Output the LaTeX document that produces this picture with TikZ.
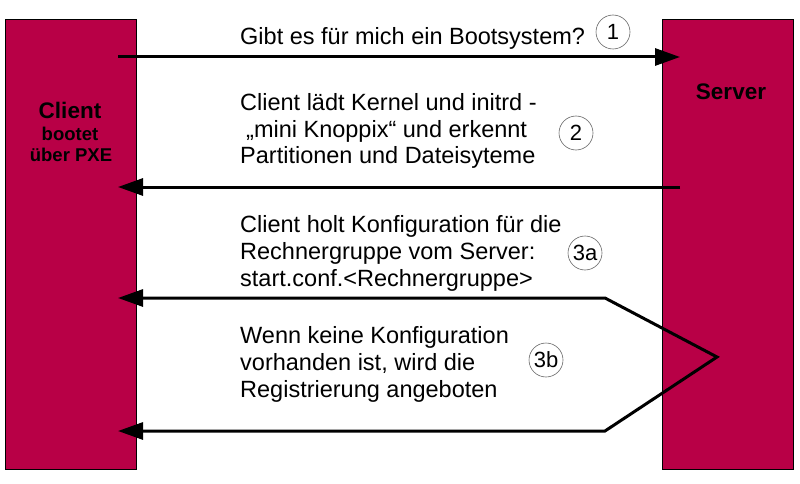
\documentclass[tikz,border=0pt]{standalone}
\usepackage{fontspec}
\setmainfont{Liberation Sans}
\usetikzlibrary{arrows.meta}
\definecolor{hostred}{RGB}{184,0,70}

\tikzset{
	hostbox/.style={draw=black, line width=0.8pt, fill=hostred, minimum width=131pt, minimum height=450pt, inner sep=0pt},
	msgtext/.style={anchor=base west, align=left, inner sep=0pt, font=\fontsize{23.5}{26.8}\selectfont},
	numcircle/.style={circle, draw=black!60, line width=0.6pt, minimum size=34pt, inner sep=0pt, font=\fontsize{22}{22}\selectfont},
	msg/.style={line width=3pt, -{Triangle[length=25pt, width=17pt]}},
}

\begin{document}
\begin{tikzpicture}[x=1pt, y=-1pt]
	\useasboundingbox (0,0) rectangle (800,484);
	% hosts
	\node[hostbox] (client) at (70.5,244) {};
	\node[hostbox] (server) at (727.5,244) {};
	\node[anchor=base, font=\fontsize{22.5}{22.5}\bfseries\selectfont] (clientname) at (70,118) {Client};
	\node[anchor=base, font=\fontsize{18.5}{18.5}\bfseries\selectfont] (clientboot) at (70,140) {bootet};
	\node[anchor=base, font=\fontsize{18.5}{18.5}\bfseries\selectfont] (clientpxe) at (71,161) {über PXE};
	\node[anchor=base, font=\fontsize{22.5}{22.5}\bfseries\selectfont] (servername) at (731,100) {Server};
	% arrow ends
	\coordinate (c1) at (118,57);
	\coordinate (s1) at (680,57);
	\coordinate (s2) at (680,187);
	\coordinate (c2) at (118,187);
	\coordinate (c3a) at (118,298);
	\coordinate (k3a) at (605,298);
	\coordinate (tip) at (717,357);
	\coordinate (k3b) at (605,431);
	\coordinate (c3b) at (118,431);
	% messages (anchored at the last line)
	\node[msgtext] (t1) at (240,45) {Gibt es für mich ein Bootsystem?};
	\node[msgtext] (t2) at (240,164) {Client lädt Kernel und initrd -\\\hspace*{6pt}„mini Knoppix“ und erkennt\\Partitionen und Dateisyteme};
	\node[msgtext] (t3a) at (240,286) {Client holt Konfiguration für die\\Rechnergruppe vom Server:\\start.conf.<Rechnergruppe>};
	\node[msgtext] (t3b) at (240,397) {Wenn keine Konfiguration\\vorhanden ist, wird die\\Registrierung angeboten};
	% numbers
	\node[numcircle] (n1) at (613,32) {1};
	\node[numcircle] (n2) at (576,133) {2};
	\node[numcircle] (n3a) at (585,253) {3a};
	\node[numcircle] (n3b) at (546,360) {3b};
	% connections
	\draw[msg] (c1) -- (s1);
	\draw[msg] (s2) -- (c2);
	\draw[msg, {Triangle[length=25pt, width=17pt]}-{Triangle[length=25pt, width=17pt]}, miter limit=20] (c3a) -- (k3a) -- (tip) -- (k3b) -- (c3b);
\end{tikzpicture}
\end{document}
